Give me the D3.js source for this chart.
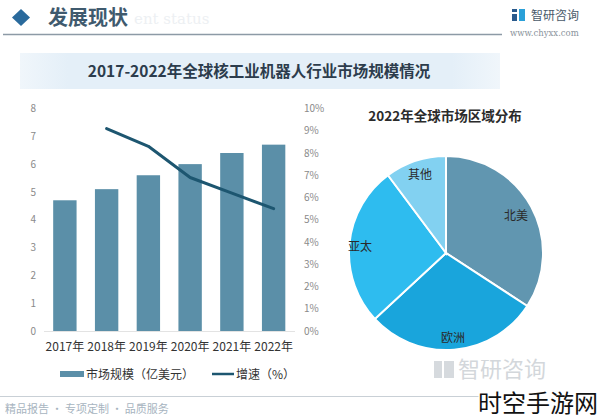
<!DOCTYPE html>
<html><head><meta charset="utf-8">
<script src="https://cdn.jsdelivr.net/npm/d3@7"></script>
<style>
html,body{margin:0;padding:0;background:#fff;}
svg{display:block;font-family:"Noto Sans CJK SC","Noto Sans",sans-serif;}
</style></head>
<body><svg id="c" width="600" height="420"></svg>
<script>
const years = ["2017年","2018年","2019年","2020年","2021年","2022年"];
const marketSize = [4.7, 5.1, 5.6, 6.0, 6.4, 6.7];
const growthYears = ["2018年","2019年","2020年","2021年","2022年"];
const growth = [9.1, 8.3, 6.9, 6.2, 5.5];
const leftTicks = [0,1,2,3,4,5,6,7,8];
const rightTicks = [0,1,2,3,4,5,6,7,8,9,10];
const regions = ["北美","欧洲","亚太","其他"];
const regionShare = [34.2, 28.9, 26.7, 10.2];

const svg = d3.select("#c");
const font = '"Noto Sans CJK SC","Noto Sans",sans-serif';

// header
svg.append("text").attr("x",134).attr("y",24).attr("font-size",15).attr("fill","#edf0f3")
  .attr("font-family","DejaVu Serif").text("ent status");
svg.append("path").attr("d","M21,9 L30,17.5 L21,26 L12,17.5 Z").attr("fill","#2a6a9c");
svg.append("text").attr("x",48).attr("y",25).attr("font-size",20).attr("font-weight","bold")
  .attr("fill","#3f5a6e").text("发展现状");
svg.append("line").attr("x1",3).attr("x2",502).attr("y1",34.5).attr("y2",34.5)
  .attr("stroke","#8d9aa6").attr("stroke-width",1.5);
// logo
const lg = svg.append("g");
lg.append("rect").attr("x",512).attr("y",9).attr("width",5).attr("height",3).attr("fill","#2a5a8c");
lg.append("rect").attr("x",512).attr("y",14).attr("width",5).attr("height",7).attr("fill","#2a5a8c");
lg.append("rect").attr("x",519).attr("y",9).attr("width",6).attr("height",12).attr("fill","#2aa0d8");
lg.append("text").attr("x",531).attr("y",20).attr("font-size",12).attr("fill","#4a5a6a").text("智研咨询");
lg.append("text").attr("x",510).attr("y",36).attr("font-size",8.5).attr("fill","#8a939c")
  .attr("font-family","DejaVu Serif").text("www.chyxx.com");

// title band
const defs = svg.append("defs");
const gr = defs.append("linearGradient").attr("id","band");
gr.append("stop").attr("offset","0%").attr("stop-color","#f0f6fb");
gr.append("stop").attr("offset","10%").attr("stop-color","#e4eff8");
gr.append("stop").attr("offset","90%").attr("stop-color","#e4eff8");
gr.append("stop").attr("offset","100%").attr("stop-color","#f0f6fb");
svg.append("rect").attr("x",20).attr("y",53).attr("width",480).attr("height",36).attr("fill","url(#band)");
svg.append("text").attr("x",259).attr("y",77).attr("text-anchor","middle").attr("font-size",15.5)
  .attr("font-weight","bold").attr("fill","#2c3c4c").text("2017-2022年全球核工业机器人行业市场规模情况");

// bar chart
const x = d3.scaleBand().domain(years).range([44,294.5]).paddingInner(0.44).paddingOuter(0.22);
const yL = d3.scaleLinear().domain([0,8]).range([331,108.5]);
const yR = d3.scaleLinear().domain([0,10]).range([331,108.5]);

svg.append("line").attr("x1",44).attr("x2",295).attr("y1",331.5).attr("y2",331.5).attr("stroke","#e3e3e3");

const axL = svg.append("g").attr("transform","translate(36,0)")
  .call(d3.axisLeft(yL).tickValues(leftTicks).tickSize(0).tickPadding(0).tickFormat(d3.format("d")));
axL.select(".domain").remove();
axL.selectAll("text").attr("font-size",10).attr("fill","#8a8a8a").attr("font-family",font);

const axR = svg.append("g").attr("transform","translate(304,0)")
  .call(d3.axisRight(yR).tickValues(rightTicks).tickSize(0).tickPadding(0).tickFormat(d=>d+"%"));
axR.select(".domain").remove();
axR.selectAll("text").attr("font-size",10).attr("fill","#8a8a8a").attr("font-family",font);

const axB = svg.append("g").attr("transform","translate(0,331)")
  .call(d3.axisBottom(x).tickSize(0).tickPadding(11));
axB.select(".domain").remove();
axB.selectAll("text").attr("font-size",12).attr("fill","#333").attr("font-family",font);

svg.append("g").selectAll("rect").data(years).join("rect")
  .attr("x",d=>x(d)).attr("width",x.bandwidth())
  .attr("y",(d,i)=>yL(marketSize[i])).attr("height",(d,i)=>yL(0)-yL(marketSize[i]))
  .attr("fill","#5b8fa8");

const line = d3.line().x((d,i)=>x(growthYears[i])+x.bandwidth()/2).y(d=>yR(d)).curve(d3.curveLinear);
svg.append("path").datum(growth).attr("d",line).attr("fill","none")
  .attr("stroke","#1d5670").attr("stroke-width",3).attr("stroke-linejoin","round").attr("stroke-linecap","round");

// legend
svg.append("rect").attr("x",60).attr("y",371).attr("width",24).attr("height",6).attr("fill","#5b8fa8");
svg.append("text").attr("x",86).attr("y",378.5).attr("font-size",12).attr("fill","#333").text("市场规模（亿美元）");
svg.append("line").attr("x1",212).attr("x2",234).attr("y1",374).attr("y2",374).attr("stroke","#1d5670").attr("stroke-width",2.5);
svg.append("text").attr("x",236).attr("y",378.5).attr("font-size",12).attr("fill","#333").text("增速（%）");

// pie
svg.append("text").attr("x",445).attr("y",121).attr("text-anchor","middle").attr("font-size",13.5)
  .attr("font-weight","bold").attr("fill","#2b2b2b").text("2022年全球市场区域分布");
const colors = d3.scaleOrdinal().domain(regions).range(["#6196b0","#19a5dc","#2ebcef","#82d1f1"]);
const pie = d3.pie().sort(null).value(d=>d)(regionShare);
const arc = d3.arc().innerRadius(0).outerRadius(97);
const pg = svg.append("g").attr("transform","translate(446,253)");
pg.selectAll("path").data(pie).join("path").attr("d",arc)
  .attr("fill",(d,i)=>colors(regions[i])).attr("stroke","#fff").attr("stroke-width",2);
const labelPos = [[70,-37],[7,85],[-86,-6],[-26,-78]];
pg.selectAll("text").data(regions).join("text")
  .attr("x",(d,i)=>labelPos[i][0]).attr("y",(d,i)=>labelPos[i][1])
  .attr("text-anchor","middle").attr("dy","0.35em").attr("font-size",12).attr("fill","#2a2a2a").text(d=>d);

// footer
svg.append("line").attr("x1",0).attr("x2",480).attr("y1",396.5).attr("y2",396.5).attr("stroke","#c9d0d6").attr("stroke-width",1);
svg.append("text").attr("x",5).attr("y",413).attr("font-size",11).attr("fill","#a7b4c0").text("精品报告 · 专项定制 · 品质服务");

// bottom-right watermarks
svg.append("text").attr("x",458).attr("y",377).attr("font-size",22).attr("fill","#d3d7db").text("智研咨询");
svg.append("rect").attr("x",434).attr("y",361).attr("width",8).attr("height",17).attr("fill","#d6dade");
svg.append("rect").attr("x",444).attr("y",361).attr("width",10).attr("height",17).attr("fill","#d6dade");
svg.append("text").attr("x",478).attr("y",412).attr("font-size",24).attr("fill","#111")
  .attr("stroke","#fff").attr("stroke-width",3).attr("paint-order","stroke").text("时空手游网");
</script></body></html>
